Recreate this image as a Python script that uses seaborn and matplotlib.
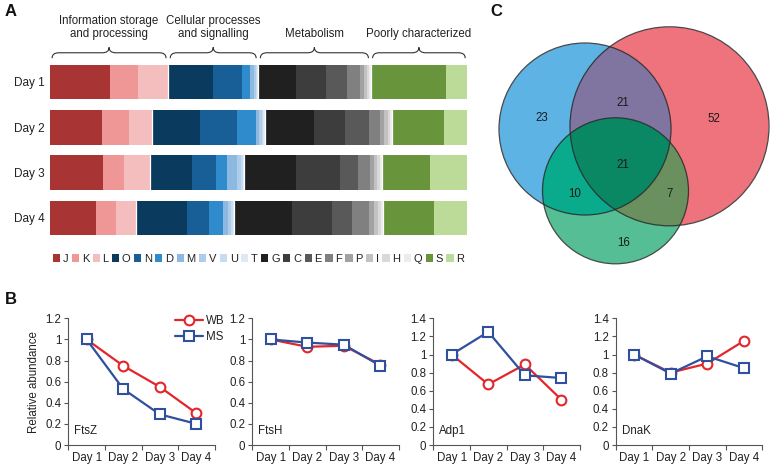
import matplotlib.pyplot as plt
import numpy as np
import pandas as pd
import seaborn as sns
from matplotlib.patches import Patch, Circle, PathPatch
from matplotlib.path import Path
from matplotlib.lines import Line2D
import matplotlib.transforms as mtransforms

sns.set_theme(style="white")
plt.rcParams['font.family'] = ['Liberation Sans', 'DejaVu Sans']

# ---- panel A data: COG composition (% of proteins) ----
days = ['Day 1', 'Day 2', 'Day 3', 'Day 4']
cogs = ['J', 'K', 'L', 'O', 'N', 'D', 'M', 'V', 'U', 'T',
        'G', 'C', 'E', 'F', 'P', 'I', 'H', 'Q', 'S', 'R']
groups = ['Information storage\nand processing', 'Cellular processes\nand signalling',
          'Metabolism', 'Poorly characterized']
group_size = [3, 7, 8, 2]
day1 = [14.4, 6.6, 7.2, 10.8, 6.8, 2.0, 0.8, 0.5, 0.4, 0.2,
        9.1, 7.0, 5.2, 3.0, 1.0, 0.7, 0.4, 0.4, 18.0, 5.1]
day2 = [12.5, 6.5, 5.4, 11.7, 8.9, 4.4, 0.8, 0.6, 0.4, 0.4,
        11.8, 7.4, 5.8, 2.6, 1.0, 0.9, 0.6, 0.4, 12.6, 5.5]
day3 = [12.6, 5.1, 6.3, 10.1, 5.7, 2.6, 2.3, 1.0, 0.5, 0.2,
        12.5, 10.5, 4.4, 2.8, 1.0, 0.8, 0.6, 0.4, 11.6, 8.9]
day4 = [11.0, 4.7, 4.9, 12.1, 5.3, 3.3, 1.4, 0.6, 0.5, 0.3,
        13.9, 9.5, 4.9, 4.0, 1.2, 1.0, 0.6, 0.6, 12.2, 7.9]
cog_colors = ['#a83434', '#ef9797', '#f5bebe', '#0b3a5f', '#185f98', '#2f8bcb',
              '#8db8e0', '#aecdea', '#c6dcf0', '#ddeaf6',
              '#202020', '#3d3d3d', '#595959', '#808080', '#a2a2a2', '#c2c2c2',
              '#d9d9d9', '#ececec', '#68943c', '#bcda98']

# ---- panel B data: relative abundance ----
genes = ['FtsZ', 'FtsH', 'Adp1', 'DnaK']
wb_vals = [[1.0, 0.75, 0.55, 0.30],
           [1.0, 0.93, 0.94, 0.76],
           [1.0, 0.67, 0.89, 0.50],
           [1.0, 0.80, 0.90, 1.15]]
ms_vals = [[1.0, 0.53, 0.29, 0.20],
           [1.0, 0.97, 0.95, 0.75],
           [1.0, 1.25, 0.77, 0.74],
           [1.0, 0.79, 0.98, 0.85]]
y_tops = [1.2, 1.2, 1.4, 1.4]
RED = '#e3262b'
BLUE = '#2f4f9f'

# ---- panel C data: Venn counts ----
venn_counts = [23, 21, 52, 21, 10, 7, 16]

fig = plt.figure(figsize=(7.7, 4.66), dpi=100)
W, H = 770, 466


def px_axes(x0, y0, x1, y1):
    return fig.add_axes([x0 / W, 1 - y1 / H, (x1 - x0) / W, (y1 - y0) / H])


# ================= panel A =================
comp = pd.DataFrame([day1, day2, day3, day4], index=days, columns=cogs)
comp = comp.div(comp.sum(axis=1), axis=0) * 100
cum = comp.cumsum(axis=1)

ax_a = px_axes(50, 59.3, 467.3, 240.6)
for cog, col in zip(reversed(cogs), reversed(cog_colors)):
    sns.barplot(x=cum[cog].values, y=days, orient='y', color=col, saturation=1,
                width=0.76, linewidth=0, ax=ax_a)

group_end = np.cumsum(group_size) - 1
for i, d in enumerate(days):
    for g in group_end[:-1]:
        b = cum.loc[d, cogs[g]]
        ax_a.plot([b, b], [i - 0.38, i + 0.38], color='white', lw=0.9)

ax_a.set_xlim(0, 100)
ax_a.set_ylim(3.5, -0.5)
ax_a.set_xticks([])
ax_a.set_xlabel('')
ax_a.set_ylabel('')
ax_a.tick_params(axis='y', length=0, pad=4, labelsize=8.5, labelcolor='#222222')
for s in ax_a.spines.values():
    s.set_visible(False)

# braces + group titles, based on Day 1 group extents
trans = mtransforms.blended_transform_factory(ax_a.transData, ax_a.transAxes)
starts = np.concatenate([[0], cum.loc['Day 1', [cogs[g] for g in group_end]].values[:-1]])
ends = cum.loc['Day 1', [cogs[g] for g in group_end]].values
ye, ym, yt = 1.006, 1.036, 1.066
for gname, x0, x1 in zip(groups, starts, ends):
    x0 += 0.5
    x1 -= 0.5
    xc = (x0 + x1) / 2
    r = 1.6
    verts = [(x0, ye), (x0, ym), (x0 + r, ym), (xc - r, ym), (xc, ym), (xc, yt),
             (xc, ym), (xc + r, ym), (x1 - r, ym), (x1, ym), (x1, ye)]
    codes = [Path.MOVETO, Path.CURVE3, Path.CURVE3, Path.LINETO, Path.CURVE3, Path.CURVE3,
             Path.CURVE3, Path.CURVE3, Path.LINETO, Path.CURVE3, Path.CURVE3]
    ax_a.add_patch(PathPatch(Path(verts, codes), fill=False, lw=0.8, ec='#333333',
                             transform=trans, clip_on=False))
    ax_a.text(xc, 1.105, gname, transform=trans, ha='center', va='bottom',
              fontsize=8.3, color='#222222', linespacing=1.15)

handles = [Patch(facecolor=c, edgecolor='none') for c in cog_colors]
ax_a.legend(handles, cogs, ncol=20, loc='center', bbox_to_anchor=(0.5, -0.1),
            frameon=False, handlelength=0.65, handleheight=0.65, handletextpad=0.25,
            columnspacing=0.3, fontsize=8, borderaxespad=0, borderpad=0,
            labelcolor='#222222')

# ================= panel B =================
lefts = [68.3, 252.3, 433.3, 615.7]
for k, gene in enumerate(genes):
    ax = px_axes(lefts[k], 318.3, lefts[k] + 146.5, 445)
    df = pd.DataFrame({'day': days * 2,
                       'value': wb_vals[k] + ms_vals[k],
                       'method': ['WB'] * 4 + ['MS'] * 4})
    sns.lineplot(data=df, x='day', y='value', hue='method', style='method',
                 markers={'WB': 'o', 'MS': 's'}, dashes=False,
                 palette={'WB': RED, 'MS': BLUE}, hue_order=['WB', 'MS'],
                 markersize=7, lw=1.6, sort=False, legend=False, ax=ax)
    for line in ax.lines:
        line.set_markeredgecolor(line.get_color())
        line.set_markerfacecolor('white')
        line.set_markeredgewidth(1.5)
    ax.set_xlim(-0.5, 3.5)
    ax.set_ylim(0, y_tops[k])
    yt_vals = np.round(np.arange(0, y_tops[k] + 0.01, 0.2), 1)
    ax.set_yticks(yt_vals)
    ax.set_yticklabels([f'{v:g}' for v in yt_vals])
    ax.set_xticks(range(4))
    ax.set_xticklabels(days)
    ax.set_xticks(np.arange(-0.5, 4, 1), minor=True)
    ax.tick_params(axis='x', which='major', length=0, pad=5, labelsize=8.3, labelcolor='#222222')
    ax.tick_params(axis='x', which='minor', length=3.5, width=0.8, color='#555555', bottom=True)
    ax.tick_params(axis='y', length=3, width=0.8, color='#555555', left=True, pad=2,
                   labelsize=8.3, labelcolor='#222222')
    for s in ['top', 'right']:
        ax.spines[s].set_visible(False)
    for s in ['left', 'bottom']:
        ax.spines[s].set_color('#555555')
        ax.spines[s].set_linewidth(0.8)
    ax.set_xlabel('')
    ax.set_ylabel('Relative abundance' if k == 0 else '', fontsize=8.3, color='#222222',
                  labelpad=4)
    ax.text(0.04, 0.06, gene, transform=ax.transAxes, fontsize=8.3, color='#222222',
            ha='left', va='bottom')
    if k == 0:
        leg_h = [Line2D([], [], color=RED, lw=1.6, marker='o', ms=7, mfc='white', mew=1.5),
                 Line2D([], [], color=BLUE, lw=1.6, marker='s', ms=7, mfc='white', mew=1.5)]
        ax.legend(leg_h, ['WB', 'MS'], loc='upper right', bbox_to_anchor=(1.1, 1.06),
                  frameon=False, fontsize=8.3, handlelength=2.4, handletextpad=0.3,
                  labelspacing=0.35, borderaxespad=0, labelcolor='#222222')

# ================= panel C =================
ax_c = px_axes(480, 0, 770, 280)
blue_c = (585.0, 129.0, 86.0)
red_c = (669.5, 126.3, 99.5)
green_c = (615.5, 190.8, 73.0)
region_rgb = {
    (1, 0, 0): '#5db4e4', (0, 1, 0): '#f0737d', (1, 1, 0): '#8074a0',
    (0, 0, 1): '#55be96', (1, 0, 1): '#0aaa8c', (0, 1, 1): '#6a9160',
    (1, 1, 1): '#0a8764',
}
xs = np.linspace(480, 770, 1160)
ys = np.linspace(0, 280, 1120)
XX, YY = np.meshgrid(xs, ys)
inside = [((XX - cx) ** 2 + (YY - cy) ** 2 <= r ** 2).astype(int) for cx, cy, r in (blue_c, red_c, green_c)]
img = np.ones((len(ys), len(xs), 4))
img[..., 3] = 0
for key, hexcol in region_rgb.items():
    m = (inside[0] == key[0]) & (inside[1] == key[1]) & (inside[2] == key[2])
    rgb = np.array([int(hexcol[i:i + 2], 16) for i in (1, 3, 5)]) / 255
    img[m, :3] = rgb
    img[m, 3] = 1
ax_c.imshow(img, extent=(480, 770, 280, 0), origin='upper', interpolation='antialiased')
for cx, cy, r in (blue_c, red_c, green_c):
    ax_c.add_patch(Circle((cx, cy), r, fill=False, ec='#2a2a2a', lw=0.9, alpha=0.85))
label_pos = [(541.7, 118.3), (623, 102.7), (714, 119), (623, 165),
             (575, 194), (670, 194), (624, 243)]
for (tx, ty), n in zip(label_pos, venn_counts):
    ax_c.text(tx, ty, str(n), ha='center', va='center', fontsize=8.3, color='#1a1a1a')
ax_c.set_xlim(480, 770)
ax_c.set_ylim(280, 0)
ax_c.axis('off')

# panel letters
for lab, x, y in [('A', 5, 12), ('B', 5, 300), ('C', 490, 12)]:
    fig.text(x / W, 1 - y / H, lab, fontsize=12, fontweight='bold', ha='left', va='center',
             color='#111111')

fig.savefig('out.png', dpi=100)
